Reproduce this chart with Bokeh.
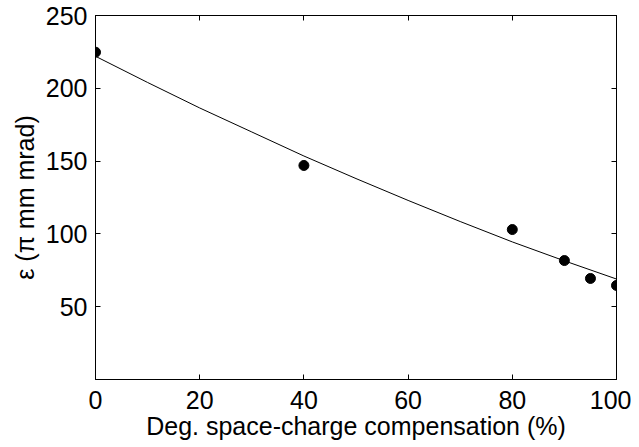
from bokeh.plotting import figure
from bokeh.models import LinearAxis, FixedTicker, Range1d
from bokeh.embed import file_html
from bokeh.resources import INLINE

# measured data
comp = [0, 40, 80, 90, 95, 100]
emit = [224.8, 147, 103, 81.7, 69.4, 64.6]

# fitted curve
fit_x = [0, 10, 20, 30, 40, 50, 60, 70, 80, 90, 100]
fit_y = [222, 204, 186.5, 170, 153.5, 138, 123, 108.5, 94.5, 81.5, 69]

x_ticks = [0, 20, 40, 60, 80, 100]
y_ticks = [50, 100, 150, 200, 250]

FONT = "Liberation Sans"
FS = "25px"

p = figure(width=631, height=445, output_backend="svg", toolbar_location=None,
           x_range=Range1d(0, 100), y_range=Range1d(0, 250),
           min_border_left=95, min_border_right=15, min_border_top=15, min_border_bottom=66)
p.background_fill_color = "white"
p.border_fill_color = "white"
p.outline_line_color = "black"
p.outline_line_width = 1
p.grid.visible = False

p.line(fit_x, fit_y, line_color="black", line_width=1)
p.scatter(comp, emit, size=10, fill_color="black", line_color="black")

def style(ax, labels=True):
    ax.axis_line_color = "black"
    ax.major_tick_line_color = "black"
    ax.major_tick_in = 5
    ax.major_tick_out = 0
    ax.minor_tick_line_color = None
    ax.major_label_text_font = FONT
    ax.major_label_text_color = "black"
    if labels:
        ax.major_label_text_font_size = FS
        ax.major_label_standoff = 8
    else:
        ax.major_label_overrides = {t: "" for t in ax.ticker.ticks}
        ax.major_label_text_font_size = "1px"
        ax.major_label_standoff = 0

p.xaxis.ticker = FixedTicker(ticks=x_ticks)
p.yaxis.ticker = FixedTicker(ticks=y_ticks)
style(p.xaxis[0]); style(p.yaxis[0])
p.xaxis.major_label_standoff = 11
p.xaxis.axis_label = "Deg. space-charge compensation (%)"
p.yaxis.axis_label = "ε (π mm mrad)"
for ax in (p.xaxis[0], p.yaxis[0]):
    ax.axis_label_text_font = FONT
    ax.axis_label_text_font_size = FS
    ax.axis_label_text_font_style = "normal"
    ax.axis_label_text_color = "black"
p.xaxis.axis_label_standoff = 0
p.yaxis.axis_label_standoff = 4

top = LinearAxis(ticker=FixedTicker(ticks=x_ticks))
right = LinearAxis(ticker=FixedTicker(ticks=y_ticks))
style(top, labels=False); style(right, labels=False)
p.add_layout(top, "above")
p.add_layout(right, "right")

open("out.html", "w").write(file_html(p, INLINE))
